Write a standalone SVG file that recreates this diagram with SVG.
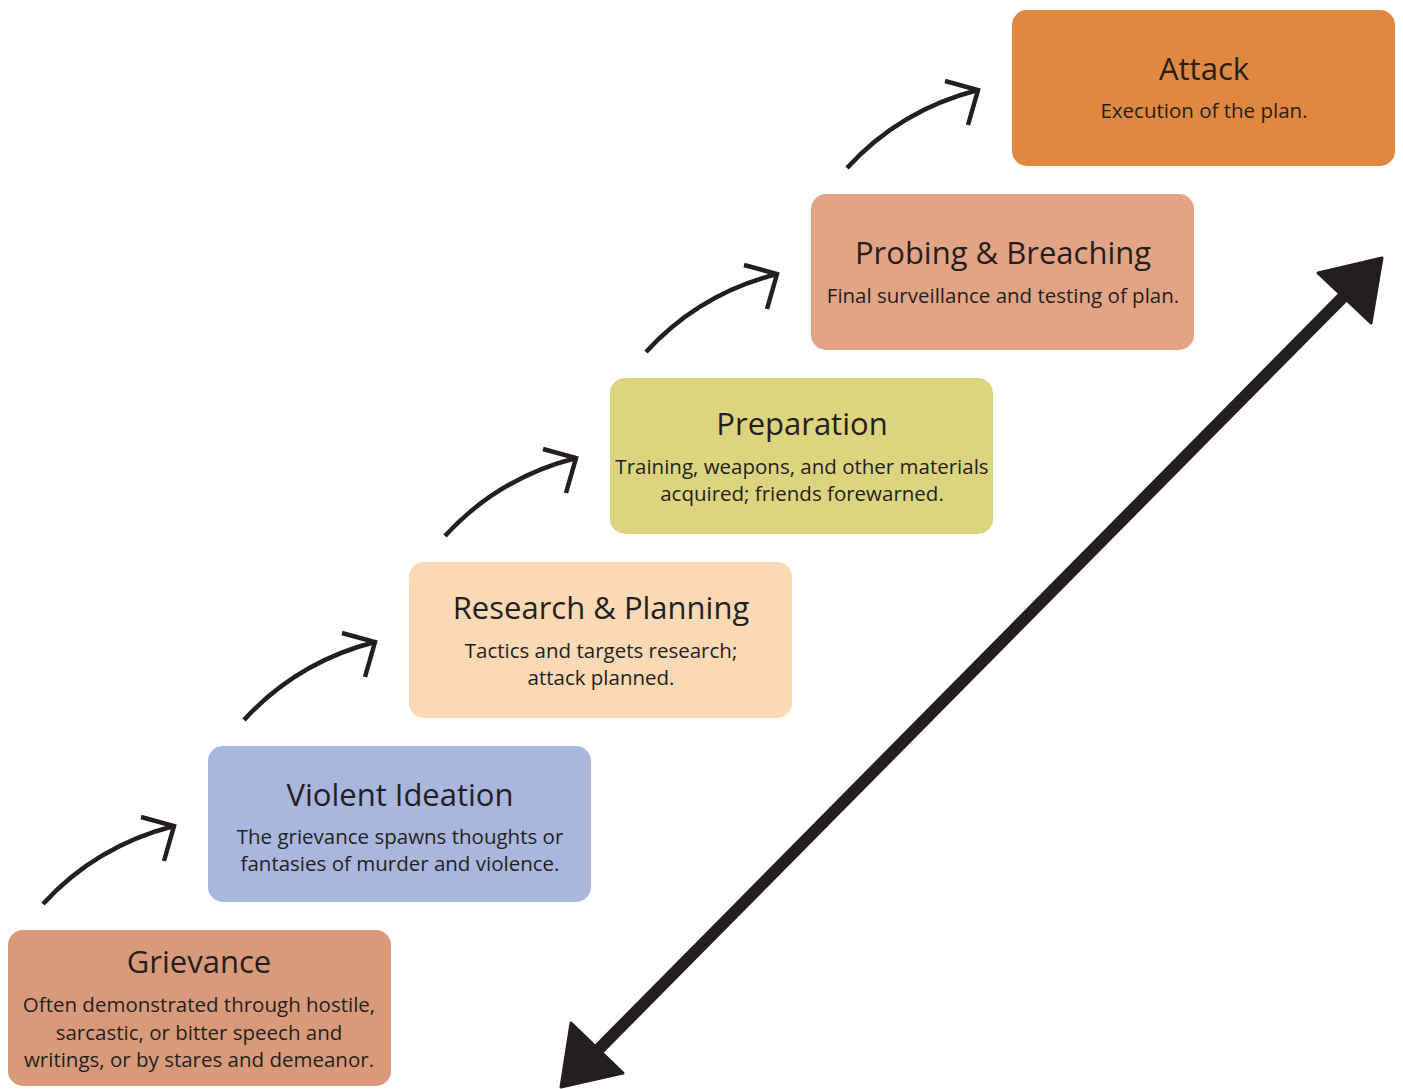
<svg xmlns="http://www.w3.org/2000/svg" width="1403" height="1089" viewBox="0 0 1403 1089">
<style>
.box{stroke:none}
.t{font-family:"Open Sans","Liberation Sans",sans-serif;fill:#231f20;text-anchor:middle}
.h{font-size:31px}
.s{font-size:20.5px}
.arc{fill:none;stroke:#231f20;stroke-width:4.5;stroke-linecap:butt;stroke-linejoin:miter}
</style>
<defs>
<g id="curve">
<path class="arc" d="M43,904 Q96,846 174,826"/>
<path class="arc" d="M141,817 L174,826 L164,861"/>
</g>
</defs>
<rect width="1403" height="1089" fill="#ffffff"/>
<g id="grievance">
<rect class="box" x="8" y="930" width="383" height="156" rx="15" fill="#d99a7b"/>
<text class="t h" x="199" y="973">Grievance</text>
<text class="t s" x="199" y="1012">Often demonstrated through hostile,</text>
<text class="t s" x="199" y="1040">sarcastic, or bitter speech and</text>
<text class="t s" x="199" y="1067">writings, or by stares and demeanor.</text>
</g>
<g id="violent-ideation">
<rect class="box" x="208" y="746" width="383" height="156" rx="15" fill="#a9b6de"/>
<text class="t h" x="400" y="806">Violent Ideation</text>
<text class="t s" x="400" y="844">The grievance spawns thoughts or</text>
<text class="t s" x="400" y="871">fantasies of murder and violence.</text>
</g>
<g id="research-planning">
<rect class="box" x="409" y="562" width="383" height="156" rx="15" fill="#fbd9b5"/>
<text class="t h" x="601" y="619">Research &amp; Planning</text>
<text class="t s" x="601" y="658">Tactics and targets research;</text>
<text class="t s" x="601" y="685">attack planned.</text>
</g>
<g id="preparation">
<rect class="box" x="610" y="378" width="383" height="156" rx="15" fill="#ddd47f"/>
<text class="t h" x="802" y="435">Preparation</text>
<text class="t s" x="802" y="474">Training, weapons, and other materials</text>
<text class="t s" x="802" y="501">acquired; friends forewarned.</text>
</g>
<g id="probing-breaching">
<rect class="box" x="811" y="194" width="383" height="156" rx="15" fill="#e3a486"/>
<text class="t h" x="1003" y="264">Probing &amp; Breaching</text>
<text class="t s" x="1003" y="303">Final surveillance and testing of plan.</text>
</g>
<g id="attack">
<rect class="box" x="1012" y="10" width="383" height="156" rx="15" fill="#e08840"/>
<text class="t h" x="1204" y="80">Attack</text>
<text class="t s" x="1204" y="118">Execution of the plan.</text>
</g>
<g id="connectors">
<use href="#curve"/>
<use href="#curve" transform="translate(201,-184)"/>
<use href="#curve" transform="translate(402,-368)"/>
<use href="#curve" transform="translate(603,-552)"/>
<use href="#curve" transform="translate(804,-736)"/>
<path d="M592,1056 L1350,290" stroke="#231f20" stroke-width="12" fill="none"/>
<path d="M1382,258 L1318,273 L1371,323 Z" fill="#231f20" stroke="#231f20" stroke-width="3" stroke-linejoin="round"/>
<path d="M561,1087 L571,1023 L623,1073 Z" fill="#231f20" stroke="#231f20" stroke-width="3" stroke-linejoin="round"/>
</g>
</svg>
